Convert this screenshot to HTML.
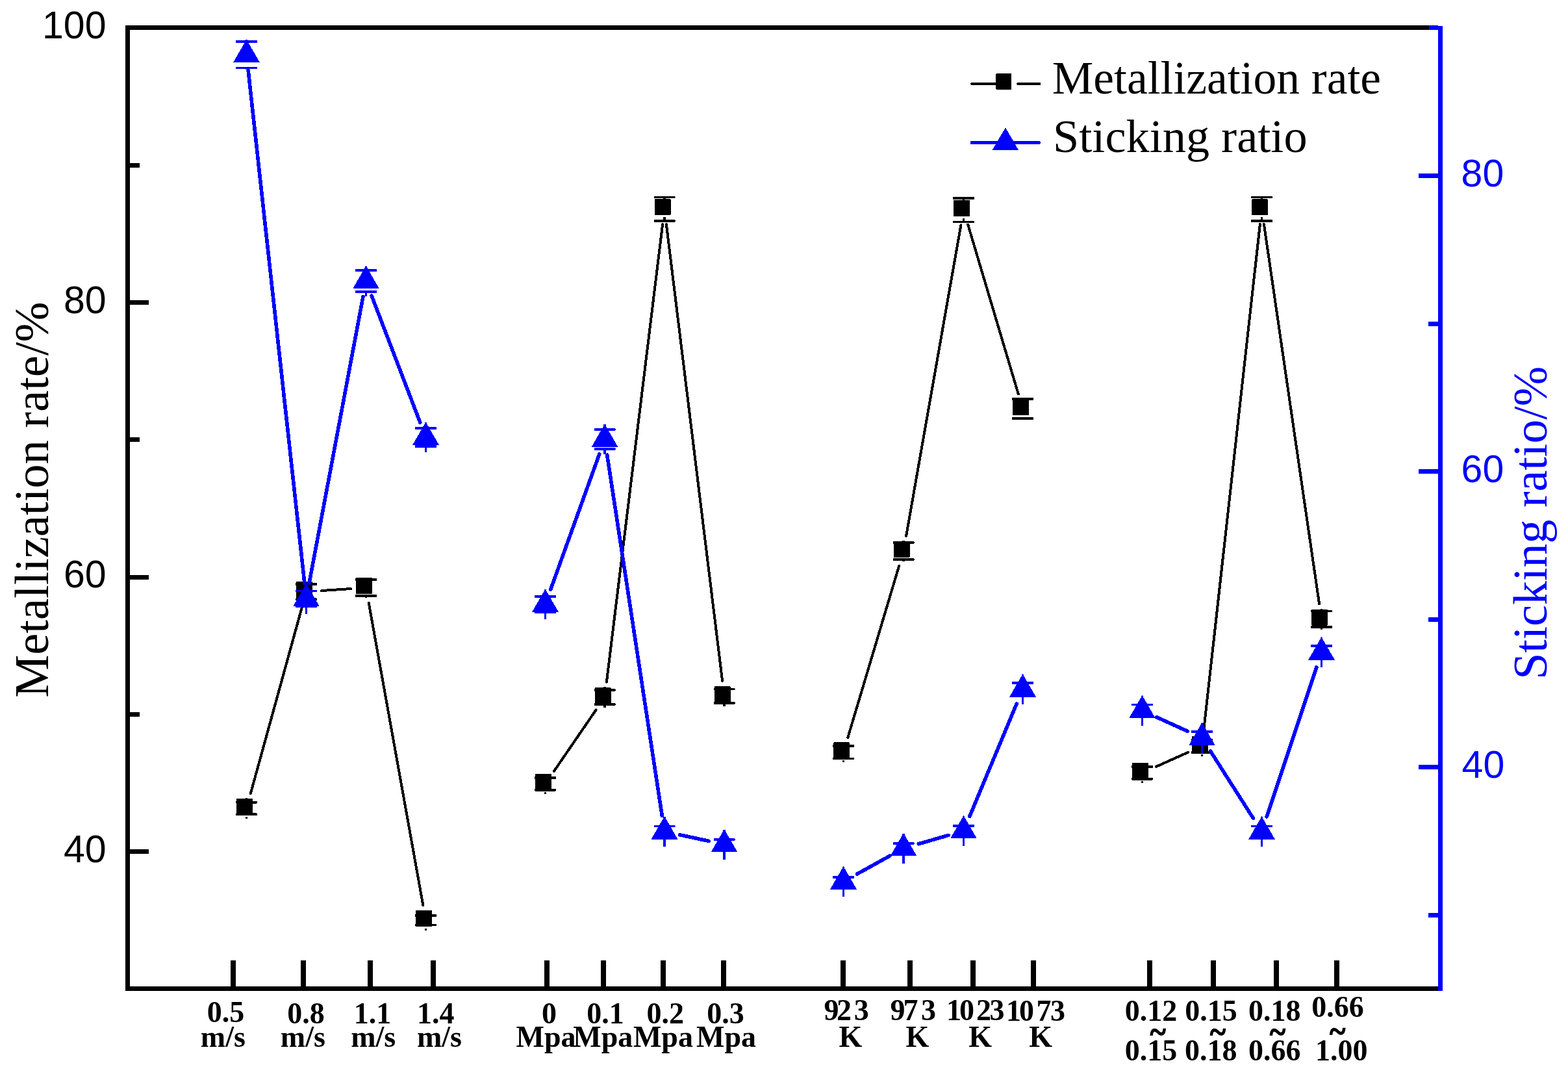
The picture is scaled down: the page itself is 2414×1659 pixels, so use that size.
<!DOCTYPE html><html><head><meta charset="utf-8"><title>Metallization rate and sticking ratio</title>
<style>html,body{margin:0;padding:0;background:#fff;overflow:hidden}svg{display:block;shape-rendering:crispEdges}.ax{font-family:"Liberation Sans",Arial,sans-serif;font-size:59px}.tl{font-family:"Liberation Serif","Times New Roman",serif;font-weight:bold;font-size:46px}.tt{font-family:"Liberation Serif","Times New Roman",serif;font-size:74.4px}.lg{font-family:"Liberation Serif","Times New Roman",serif;font-size:72px}</style></head><body>
<svg width="2414" height="1659" viewBox="0 0 2414 1659">
<rect width="2414" height="1659" fill="#fff"/>
<g fill="#000"><rect x="193" y="39" width="2008" height="7"/><rect x="193" y="39" width="7" height="1486"/><rect x="193" y="1518" width="2022" height="7"/></g>
<g fill="#0000ff"><rect x="2200" y="39" width="14" height="7"/><rect x="2214" y="40" width="7" height="1485"/></g>
<g stroke="#000" stroke-width="7">
<line x1="199" y1="465.5" x2="228.8" y2="465.5"/>
<line x1="199" y1="888.16" x2="228.8" y2="888.16"/>
<line x1="199" y1="1310.82" x2="228.8" y2="1310.82"/>
<line x1="199" y1="254.17" x2="214.8" y2="254.17"/>
<line x1="199" y1="676.83" x2="214.8" y2="676.83"/>
<line x1="199" y1="1099.49" x2="214.8" y2="1099.49"/>
</g>
<g stroke="#0000ff" stroke-width="7">
<line x1="2215" y1="270.6" x2="2184" y2="270.6"/>
<line x1="2215" y1="725.6" x2="2184" y2="725.6"/>
<line x1="2215" y1="1180.6" x2="2184" y2="1180.6"/>
<line x1="2215" y1="498.1" x2="2199" y2="498.1"/>
<line x1="2215" y1="953.1" x2="2199" y2="953.1"/>
<line x1="2215" y1="1408.1" x2="2199" y2="1408.1"/>
</g>
<g stroke="#000" stroke-width="7.8">
<line x1="359" y1="1478" x2="359" y2="1519"/>
<line x1="467.1" y1="1478" x2="467.1" y2="1519"/>
<line x1="569.9" y1="1478" x2="569.9" y2="1519"/>
<line x1="667.2" y1="1478" x2="667.2" y2="1519"/>
<line x1="841.8" y1="1478" x2="841.8" y2="1519"/>
<line x1="928.6" y1="1478" x2="928.6" y2="1519"/>
<line x1="1021" y1="1478" x2="1021" y2="1519"/>
<line x1="1113.6" y1="1478" x2="1113.6" y2="1519"/>
<line x1="1297.9" y1="1478" x2="1297.9" y2="1519"/>
<line x1="1401" y1="1478" x2="1401" y2="1519"/>
<line x1="1498" y1="1478" x2="1498" y2="1519"/>
<line x1="1590.8" y1="1478" x2="1590.8" y2="1519"/>
<line x1="1770" y1="1478" x2="1770" y2="1519"/>
<line x1="1867.8" y1="1478" x2="1867.8" y2="1519"/>
<line x1="1965.2" y1="1478" x2="1965.2" y2="1519"/>
<line x1="2057.6" y1="1478" x2="2057.6" y2="1519"/>
</g>
<g class="ax">
<text x="65" y="59.14">100</text>
<text x="98" y="481.8">80</text>
<text x="98" y="904.46">60</text>
<text x="98" y="1327.12">40</text>
</g>
<g class="ax" fill="#0000ff">
<text x="2249.6" y="286.8">80</text>
<text x="2249.6" y="741.8">60</text>
<text x="2250.6" y="1196.8">40</text>
</g>
<text class="tt" transform="translate(73.9,1073.85) rotate(-90)">Metallization rate/%</text>
<text class="tt" style="font-size:73.9px" fill="#0000ff" transform="translate(2380.7,1045.85) rotate(-90)">Sticking ratio/%</text>
<g class="tl">
<text x="318.7" y="1573.4">0.5</text>
<text x="442.3" y="1575.2">0.8</text>
<text x="544.85" y="1575">1.1</text>
<text x="641.95" y="1575">1.4</text>
<text x="308.85" y="1611.4">m/s</text>
<text x="431.85" y="1611.4">m/s</text>
<text x="540.15" y="1611.4">m/s</text>
<text x="642" y="1611.4">m/s</text>
<text x="834.05" y="1574.7">0</text>
<text x="903.35" y="1574.7">0.1</text>
<text x="995.55" y="1574.7">0.2</text>
<text x="1088.15" y="1574.7">0.3</text>
<text x="794.6" y="1611">Mpa</text>
<text x="882.3" y="1611">Mpa</text>
<text x="974.95" y="1611">Mpa</text>
<text x="1072.1" y="1611">Mpa</text>
<text x="1291.45" y="1610.9">K</text>
<text x="1394.45" y="1610.9">K</text>
<text x="1491.25" y="1610.9">K</text>
<text x="1584.35" y="1610.9">K</text>
<text x="1731.65" y="1571">0.12</text>
<text x="1824.25" y="1571">0.15</text>
<text x="1922.1" y="1571">0.18</text>
<text x="2019.3" y="1564.8">0.66</text>
<text x="1731.65" y="1631.6">0.15</text>
<text x="1824.05" y="1631.6">0.18</text>
<text x="1922.1" y="1631.6">0.66</text>
<text x="2025.1" y="1631.6">1.00</text>
<text x="1268.4 1288 1314.85" y="1570.1">923</text>
<text x="1370.45 1390.5 1418" y="1570">973</text>
<text x="1456.9 1477.05 1503.1 1523.55" y="1570.1">1023</text>
<text x="1548.95 1569.05 1595.45 1616.9" y="1570.9">1073</text>
<text transform="translate(1770.7,1605.2) scale(1,1.12)" stroke="#000" stroke-width="1.3">~</text>
<text transform="translate(1862.9,1605.2) scale(1,1.12)" stroke="#000" stroke-width="1.3">~</text>
<text transform="translate(1954.95,1605.2) scale(1,1.12)" stroke="#000" stroke-width="1.3">~</text>
<text transform="translate(2047.3,1604.4) scale(1,1.12)" stroke="#000" stroke-width="1.3">~</text>
</g>
<g stroke="#000" stroke-width="4" stroke-linecap="round" fill="none">
<line x1="385.75" y1="1221.35" x2="465.25" y2="933.25"/>
<line x1="494.95" y1="909.05" x2="540.05" y2="906.05"/>
<line x1="567.66" y1="927.63" x2="651.34" y2="1393.07"/>
<line x1="852.79" y1="1187.02" x2="917.71" y2="1092.38"/>
<line x1="933.86" y1="1049.67" x2="1020.14" y2="345.03"/>
<line x1="1025.86" y1="345.02" x2="1112.14" y2="1047.88"/>
<line x1="1305.23" y1="1135.18" x2="1384.27" y2="870.52"/>
<line x1="1395.08" y1="824.86" x2="1479.42" y2="346.34"/>
<line x1="1490.2" y1="345.72" x2="1567.8" y2="606.48"/>
<line x1="1779.95" y1="1179.8" x2="1829.05" y2="1157.8"/>
<line x1="1853.1" y1="1124.84" x2="1939.9" y2="345.06"/>
<line x1="1945.89" y1="344.95" x2="2031.11" y2="929.55"/>
</g>
<g fill="#000">
<rect x="377.7" y="1228.3" width="3.6" height="3.2"/>
<rect x="377.7" y="1256.5" width="3.6" height="3.2"/>
<rect x="363" y="1232.95" width="33" height="3.6" rx="1"/>
<rect x="363" y="1251.45" width="33" height="3.6" rx="1"/>
<rect x="364" y="1228.7" width="25" height="25" rx="1"/>
<rect x="469.7" y="894.9" width="3.6" height="3.2"/>
<rect x="469.7" y="923.1" width="3.6" height="3.2"/>
<rect x="455" y="897.2" width="33" height="3.6" rx="1"/>
<rect x="455" y="920.4" width="33" height="3.6" rx="1"/>
<rect x="456" y="895.3" width="25" height="25" rx="1"/>
<rect x="561.7" y="888.8" width="3.6" height="3.2"/>
<rect x="561.7" y="917" width="3.6" height="3.2"/>
<rect x="547" y="890.2" width="33" height="3.6" rx="1"/>
<rect x="547" y="915.2" width="33" height="3.6" rx="1"/>
<rect x="548" y="889.2" width="25" height="25" rx="1"/>
<rect x="653.7" y="1400.5" width="3.6" height="3.2"/>
<rect x="653.7" y="1428.7" width="3.6" height="3.2"/>
<rect x="639" y="1407.2" width="33" height="3.6" rx="1"/>
<rect x="639" y="1421.6" width="33" height="3.6" rx="1"/>
<rect x="640" y="1400.9" width="25" height="25" rx="1"/>
<rect x="837.7" y="1190.7" width="3.6" height="3.2"/>
<rect x="837.7" y="1218.9" width="3.6" height="3.2"/>
<rect x="823" y="1195.2" width="33" height="3.6" rx="1"/>
<rect x="823" y="1214" width="33" height="3.6" rx="1"/>
<rect x="824" y="1191.1" width="25" height="25" rx="1"/>
<rect x="929.2" y="1057.3" width="3.6" height="3.2"/>
<rect x="929.2" y="1085.5" width="3.6" height="3.2"/>
<rect x="914.5" y="1060.2" width="33" height="3.6" rx="1"/>
<rect x="914.5" y="1082.2" width="33" height="3.6" rx="1"/>
<rect x="915.5" y="1057.7" width="25" height="25" rx="1"/>
<rect x="1021.2" y="303.5" width="3.6" height="5.7"/>
<rect x="1021.2" y="334.2" width="3.6" height="5.7"/>
<rect x="1006.5" y="301.7" width="33" height="3.6" rx="1"/>
<rect x="1006.5" y="338.1" width="33" height="3.6" rx="1"/>
<rect x="1007.5" y="306.4" width="25" height="25" rx="1"/>
<rect x="1113.2" y="1055.5" width="3.6" height="3.2"/>
<rect x="1113.2" y="1083.7" width="3.6" height="3.2"/>
<rect x="1098.5" y="1058.6" width="33" height="3.6" rx="1"/>
<rect x="1098.5" y="1080.2" width="33" height="3.6" rx="1"/>
<rect x="1099.5" y="1055.9" width="25" height="25" rx="1"/>
<rect x="1296.7" y="1142" width="3.6" height="3.2"/>
<rect x="1296.7" y="1170.2" width="3.6" height="3.2"/>
<rect x="1282" y="1146.2" width="33" height="3.6" rx="1"/>
<rect x="1282" y="1165.6" width="33" height="3.6" rx="1"/>
<rect x="1283" y="1142.4" width="25" height="25" rx="1"/>
<rect x="1389.2" y="832.3" width="3.6" height="3.2"/>
<rect x="1389.2" y="860.5" width="3.6" height="3.2"/>
<rect x="1374.5" y="833.2" width="33" height="3.6" rx="1"/>
<rect x="1374.5" y="859.2" width="33" height="3.6" rx="1"/>
<rect x="1375.5" y="832.7" width="25" height="25" rx="1"/>
<rect x="1481.7" y="305" width="3.6" height="5.7"/>
<rect x="1481.7" y="335.7" width="3.6" height="5.7"/>
<rect x="1467" y="303.2" width="33" height="3.6" rx="1"/>
<rect x="1467" y="339.6" width="33" height="3.6" rx="1"/>
<rect x="1468" y="307.9" width="25" height="25" rx="1"/>
<rect x="1572.7" y="613.3" width="3.6" height="3.2"/>
<rect x="1572.7" y="641.5" width="3.6" height="3.2"/>
<rect x="1558" y="612.2" width="33" height="3.6" rx="1"/>
<rect x="1558" y="642.2" width="33" height="3.6" rx="1"/>
<rect x="1559" y="613.7" width="25" height="25" rx="1"/>
<rect x="1756.7" y="1173.7" width="3.6" height="3.2"/>
<rect x="1756.7" y="1201.9" width="3.6" height="3.2"/>
<rect x="1742" y="1178.2" width="33" height="3.6" rx="1"/>
<rect x="1742" y="1197" width="33" height="3.6" rx="1"/>
<rect x="1743" y="1174.1" width="25" height="25" rx="1"/>
<rect x="1848.7" y="1132.5" width="3.6" height="3.2"/>
<rect x="1848.7" y="1160.7" width="3.6" height="3.2"/>
<rect x="1834" y="1136.6" width="33" height="3.6" rx="1"/>
<rect x="1834" y="1156.2" width="33" height="3.6" rx="1"/>
<rect x="1835" y="1132.9" width="25" height="25" rx="1"/>
<rect x="1940.7" y="303.4" width="3.6" height="5.8"/>
<rect x="1940.7" y="334.2" width="3.6" height="5.8"/>
<rect x="1926" y="301.6" width="33" height="3.6" rx="1"/>
<rect x="1926" y="338.2" width="33" height="3.6" rx="1"/>
<rect x="1927" y="306.4" width="25" height="25" rx="1"/>
<rect x="2032.7" y="937.1" width="3.6" height="3.2"/>
<rect x="2032.7" y="965.3" width="3.6" height="3.2"/>
<rect x="2018" y="938.8" width="33" height="3.6" rx="1"/>
<rect x="2018" y="963.2" width="33" height="3.6" rx="1"/>
<rect x="2019" y="937.5" width="25" height="25" rx="1"/>
</g>
<g stroke="#0000ff" stroke-width="5.6" stroke-linecap="round" fill="none">
<line x1="382.15" y1="108.35" x2="468.85" y2="897.35"/>
<line x1="475.99" y1="897.62" x2="559.01" y2="456.38"/>
<line x1="572.18" y1="455.2" x2="646.82" y2="650.3"/>
<line x1="847.74" y1="907.14" x2="922.76" y2="698.86"/>
<line x1="934.66" y1="700.02" x2="1019.34" y2="1255.68"/>
<line x1="1046.76" y1="1284.81" x2="1091.24" y2="1294.39"/>
<line x1="1319.76" y1="1344.93" x2="1369.74" y2="1317.27"/>
<line x1="1414.33" y1="1298.71" x2="1460.17" y2="1285.39"/>
<line x1="1492.86" y1="1256.18" x2="1565.14" y2="1083.12"/>
<line x1="1780.61" y1="1103.67" x2="1828.39" y2="1125.43"/>
<line x1="1863.56" y1="1155.99" x2="1929.44" y2="1259.41"/>
<line x1="1950.18" y1="1256.85" x2="2026.82" y2="1026.85"/>
</g>
<g fill="#0000ff">
<rect x="377.6" y="61.2" width="3.8" height="2.7"/>
<rect x="377.6" y="104.5" width="3.8" height="2.7"/>
<rect x="363" y="62" width="33" height="3.8" rx="1"/>
<rect x="363" y="102.6" width="33" height="3.8" rx="1"/>
<path d="M379.5 60.7L399.9 96L359.1 96Z"/>
<rect x="469.6" y="898.5" width="3.8" height="11"/>
<rect x="469.6" y="933.5" width="3.8" height="11"/>
<rect x="455" y="907.6" width="33" height="3.8" rx="1"/>
<rect x="455" y="931.6" width="33" height="3.8" rx="1"/>
<path d="M471.5 898L491.9 933.3L451.1 933.3Z"/>
<rect x="561.6" y="409.5" width="3.8" height="6.3"/>
<rect x="561.6" y="449.2" width="3.8" height="6.3"/>
<rect x="547" y="413.9" width="33" height="3.8" rx="1"/>
<rect x="547" y="447.3" width="33" height="3.8" rx="1"/>
<path d="M563.5 409L583.9 444.3L543.1 444.3Z"/>
<rect x="653.6" y="650" width="3.8" height="9"/>
<rect x="653.6" y="687" width="3.8" height="9"/>
<rect x="639" y="657.1" width="33" height="3.8" rx="1"/>
<rect x="639" y="685.1" width="33" height="3.8" rx="1"/>
<path d="M655.5 649.5L675.9 684.8L635.1 684.8Z"/>
<rect x="837.6" y="907" width="3.8" height="11"/>
<rect x="837.6" y="942" width="3.8" height="11"/>
<rect x="823" y="916.1" width="33" height="3.8" rx="1"/>
<rect x="823" y="940.1" width="33" height="3.8" rx="1"/>
<path d="M839.5 906.5L859.9 941.8L819.1 941.8Z"/>
<rect x="929.1" y="653" width="3.8" height="8.2"/>
<rect x="929.1" y="690.8" width="3.8" height="8.2"/>
<rect x="914.5" y="659.3" width="33" height="3.8" rx="1"/>
<rect x="914.5" y="688.9" width="33" height="3.8" rx="1"/>
<path d="M931 652.5L951.4 687.8L910.6 687.8Z"/>
<rect x="1021.1" y="1256.7" width="3.8" height="14.7"/>
<rect x="1021.1" y="1288" width="3.8" height="14.7"/>
<rect x="1006.5" y="1269.5" width="33" height="3.8" rx="1"/>
<rect x="1006.5" y="1286.1" width="33" height="3.8" rx="1"/>
<path d="M1023 1256.2L1043.4 1291.5L1002.6 1291.5Z"/>
<rect x="1113.1" y="1276.5" width="3.8" height="15.5"/>
<rect x="1113.1" y="1307" width="3.8" height="15.5"/>
<rect x="1098.5" y="1290.1" width="33" height="3.8" rx="1"/>
<rect x="1098.5" y="1305.1" width="33" height="3.8" rx="1"/>
<path d="M1115 1276L1135.4 1311.3L1094.6 1311.3Z"/>
<rect x="1296.6" y="1333.7" width="3.8" height="16.1"/>
<rect x="1296.6" y="1363.6" width="3.8" height="16.1"/>
<rect x="1282" y="1347.9" width="33" height="3.8" rx="1"/>
<rect x="1282" y="1361.7" width="33" height="3.8" rx="1"/>
<path d="M1298.5 1333.2L1318.9 1368.5L1278.1 1368.5Z"/>
<rect x="1389.1" y="1282.5" width="3.8" height="15.7"/>
<rect x="1389.1" y="1312.8" width="3.8" height="15.7"/>
<rect x="1374.5" y="1296.3" width="33" height="3.8" rx="1"/>
<rect x="1374.5" y="1310.9" width="33" height="3.8" rx="1"/>
<path d="M1391 1282L1411.4 1317.3L1370.6 1317.3Z"/>
<rect x="1481.6" y="1255.6" width="3.8" height="15.2"/>
<rect x="1481.6" y="1286.4" width="3.8" height="15.2"/>
<rect x="1467" y="1268.9" width="33" height="3.8" rx="1"/>
<rect x="1467" y="1284.5" width="33" height="3.8" rx="1"/>
<path d="M1483.5 1255.1L1503.9 1290.4L1463.1 1290.4Z"/>
<rect x="1572.6" y="1037.7" width="3.8" height="13.3"/>
<rect x="1572.6" y="1070.4" width="3.8" height="13.3"/>
<rect x="1558" y="1049.1" width="33" height="3.8" rx="1"/>
<rect x="1558" y="1068.5" width="33" height="3.8" rx="1"/>
<path d="M1574.5 1037.2L1594.9 1072.5L1554.1 1072.5Z"/>
<rect x="1756.6" y="1070.6" width="3.8" height="13.9"/>
<rect x="1756.6" y="1102.7" width="3.8" height="13.9"/>
<rect x="1742" y="1082.6" width="33" height="3.8" rx="1"/>
<rect x="1742" y="1100.8" width="33" height="3.8" rx="1"/>
<path d="M1758.5 1070.1L1778.9 1105.4L1738.1 1105.4Z"/>
<rect x="1848.6" y="1112.5" width="3.8" height="13.4"/>
<rect x="1848.6" y="1145.1" width="3.8" height="13.4"/>
<rect x="1834" y="1124" width="33" height="3.8" rx="1"/>
<rect x="1834" y="1143.2" width="33" height="3.8" rx="1"/>
<path d="M1850.5 1112L1870.9 1147.3L1830.1 1147.3Z"/>
<rect x="1940.6" y="1256.9" width="3.8" height="14.5"/>
<rect x="1940.6" y="1288.4" width="3.8" height="14.5"/>
<rect x="1926" y="1269.5" width="33" height="3.8" rx="1"/>
<rect x="1926" y="1286.5" width="33" height="3.8" rx="1"/>
<path d="M1942.5 1256.4L1962.9 1291.7L1922.1 1291.7Z"/>
<rect x="2032.6" y="980.8" width="3.8" height="13.1"/>
<rect x="2032.6" y="1013.7" width="3.8" height="13.1"/>
<rect x="2018" y="992" width="33" height="3.8" rx="1"/>
<rect x="2018" y="1011.8" width="33" height="3.8" rx="1"/>
<path d="M2034.5 980.3L2054.9 1015.6L2014.1 1015.6Z"/>
</g>
<g stroke="#000" stroke-width="4.2" stroke-linecap="round">
<line x1="1496.3" y1="129" x2="1531" y2="129"/><line x1="1567.3" y1="129" x2="1600.1" y2="129"/>
</g>
<rect x="1533.4" y="113.2" width="24" height="25" rx="1.5" fill="#000"/>
<line x1="1496.2" y1="219.5" x2="1599.6" y2="219.5" stroke="#0000ff" stroke-width="5.2" stroke-linecap="round"/>
<path d="M1548 196.4L1568.3 231.4L1527.3 231.4Z" fill="#0000ff"/>
<text class="lg" style="font-size:71.5px" x="1619.75" y="144.4">Metallization rate</text>
<text class="lg" style="font-size:72.3px" x="1621.05" y="233.6">Sticking ratio</text>
</svg></body></html>
